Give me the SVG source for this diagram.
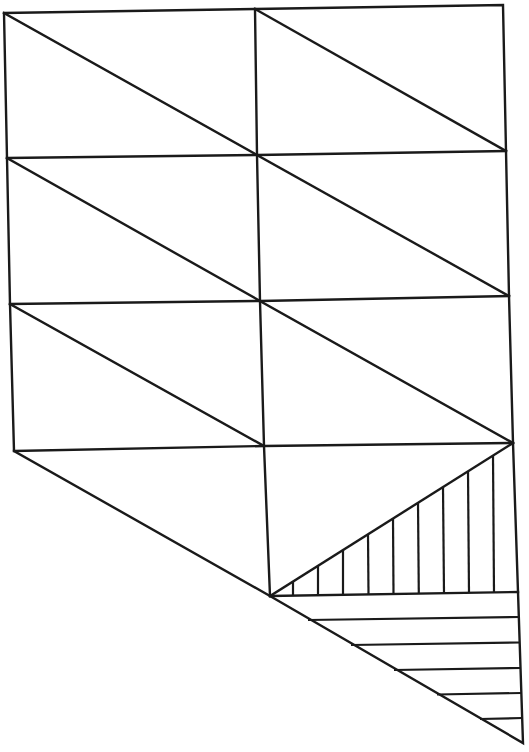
<svg xmlns="http://www.w3.org/2000/svg" width="529" height="752" viewBox="0 0 529 752">
<style>
.l{fill:none;stroke:#1a1a1a;stroke-width:2.4;stroke-linejoin:miter;stroke-linecap:square}
.h{fill:none;stroke:#1a1a1a;stroke-width:2.2;stroke-linecap:butt}
</style>
<rect width="529" height="752" fill="#ffffff"/>
<g id="outline">
<polyline class="l" points="4,13 255,9 503,5 506,151 509,296 513,443 518,592 523,743 270,596 14,451 10,304 7,158 4,13"/>
</g>
<g id="grid">
<polyline class="l" points="255,9 257,155 260,301 264,446 270,596"/>
<polyline class="l" points="7,158 257,155 506,151"/>
<polyline class="l" points="10,304 260,301 509,296"/>
<polyline class="l" points="14,451 264,446 513,443"/>
<line class="l" x1="270" y1="596" x2="518" y2="592"/>
</g>
<g id="diagonals">
<line class="l" x1="4" y1="13" x2="257" y2="155"/>
<line class="l" x1="255" y1="9" x2="506" y2="151"/>
<line class="l" x1="7" y1="158" x2="260" y2="301"/>
<line class="l" x1="257" y1="155" x2="509" y2="296"/>
<line class="l" x1="10" y1="304" x2="264" y2="446"/>
<line class="l" x1="260" y1="301" x2="513" y2="443"/>
<line class="l" x1="270" y1="596" x2="513" y2="443"/>
</g>
<g id="vertical-hatch">
<line class="h" x1="293" y1="581.5" x2="293" y2="595.6"/>
<line class="h" x1="318" y1="565.8" x2="318" y2="595.2"/>
<line class="h" x1="343" y1="550" x2="343" y2="594.8"/>
<line class="h" x1="368" y1="534.3" x2="368.5" y2="594.4"/>
<line class="h" x1="393" y1="518.6" x2="393.5" y2="594"/>
<line class="h" x1="418" y1="502.8" x2="418.8" y2="593.6"/>
<line class="h" x1="443" y1="487.1" x2="444" y2="593.2"/>
<line class="h" x1="468" y1="471.3" x2="469" y2="592.8"/>
<line class="h" x1="493" y1="455.6" x2="494" y2="592.4"/>
</g>
<g id="horizontal-hatch">
<line class="h" x1="308" y1="620" x2="519" y2="617"/>
<line class="h" x1="351" y1="645" x2="519.6" y2="642.5"/>
<line class="h" x1="394" y1="670" x2="520.4" y2="668"/>
<line class="h" x1="437" y1="694.5" x2="521.2" y2="693"/>
<line class="h" x1="480" y1="719" x2="522" y2="718"/>
</g>
</svg>
